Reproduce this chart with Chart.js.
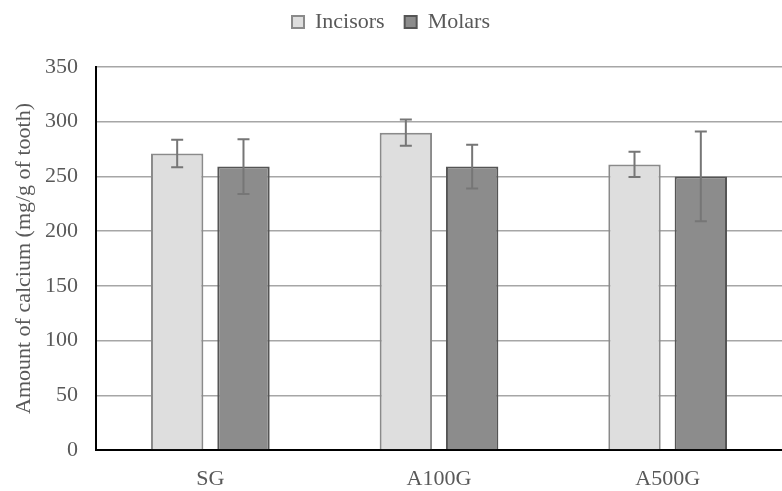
<!DOCTYPE html>
<html><head><meta charset="utf-8">
<script src="https://cdn.jsdelivr.net/npm/chart.js@4"></script>
<style>html,body{margin:0;padding:0;background:#fff}#wrap{width:782px;height:491px}</style>
</head><body><div id="wrap"><canvas id="c"></canvas></div>
<script>
const categories = ['SG', 'A100G', 'A500G'];
const incisors = [271, 290, 261];
const incisorsErr = [12.5, 12, 11.5];
const molars = [259, 259, 250];
const molarsErr = [25, 20, 41];
const yTicks = [0, 50, 100, 150, 200, 250, 300, 350];

const FONT = '"Liberation Serif", "Times New Roman", serif';

const errorBars = {
  id: 'errorBars',
  afterDatasetsDraw(chart) {
    const ctx = chart.ctx;
    const y = chart.scales.y;
    chart.data.datasets.forEach((ds, i) => {
      const meta = chart.getDatasetMeta(i);
      meta.data.forEach((bar, j) => {
        const v = ds.data[j], e = ds.errors[j];
        const yt = y.getPixelForValue(v + e), yb = y.getPixelForValue(v - e);
        ctx.save();
        ctx.strokeStyle = '#767676';
        ctx.lineWidth = 2;
        ctx.beginPath();
        ctx.moveTo(bar.x, yt); ctx.lineTo(bar.x, yb);
        ctx.moveTo(bar.x - 6, yt); ctx.lineTo(bar.x + 6, yt);
        ctx.moveTo(bar.x - 6, yb); ctx.lineTo(bar.x + 6, yb);
        ctx.stroke();
        ctx.restore();
      });
    });
  }
};

const spacer = {
  id: 'spacer',
  beforeInit(chart) {
    Chart.layouts.addBox(chart, {
      position: 'top', weight: 0, fullSize: true,
      options: { stackWeight: 1 },
      top: 0, left: 0, right: 0, bottom: 0, width: 0, height: 0,
      isHorizontal() { return true; },
      update(maxWidth) { this.width = maxWidth; this.height = 24; },
      draw() {}
    });
  }
};

new Chart(document.getElementById('c'), {
  type: 'bar',
  data: {
    labels: categories,
    datasets: [
      { label: 'Incisors', data: incisors, errors: incisorsErr, backgroundColor: '#dedede', borderColor: '#8a8a8a', borderWidth: 2, borderSkipped: 'bottom' },
      { label: 'Molars', data: molars, errors: molarsErr, backgroundColor: '#8c8c8c', borderColor: '#555555', borderWidth: 2, borderSkipped: 'bottom' }
    ]
  },
  options: {
    responsive: true,
    maintainAspectRatio: false,
    animation: false,
    categoryPercentage: 0.58,
    barPercentage: 0.79,
    layout: { padding: { top: -9, right: 0, left: 0, bottom: 0 } },
    plugins: {
      legend: {
        position: 'top',
        labels: { font: { family: FONT, size: 22 }, color: '#595959', boxWidth: 12, boxHeight: 12, padding: 20 }
      },
      tooltip: { enabled: false }
    },
    scales: {
      x: {
        grid: { display: false, drawTicks: false },
        border: { color: '#000', width: 2 },
        ticks: { font: { family: FONT, size: 22 }, color: '#595959', padding: 16 },
        afterFit(s) { s.height = 41; }
      },
      y: {
        min: 0, max: 350,
        afterBuildTicks(s) { s.ticks = yTicks.map(v => ({ value: v })); },
        grid: { color: '#a6a6a6', lineWidth: 1.5, drawTicks: false },
        border: { color: '#000', width: 2 },
        ticks: { font: { family: FONT, size: 22 }, color: '#595959', padding: 18 },
        title: { display: true, text: 'Amount of calcium (mg/g of tooth)', font: { family: FONT, size: 22 }, color: '#595959', padding: { top: 11, bottom: 0 } },
        afterFit(s) { s.width = 96; }
      }
    }
  },
  plugins: [errorBars, spacer]
});
</script></body></html>
